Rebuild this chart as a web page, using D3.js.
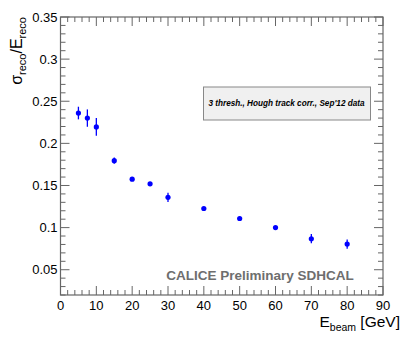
<!DOCTYPE html>
<html>
<head>
<meta charset="utf-8">
<script src="https://cdn.jsdelivr.net/npm/d3@7"></script>
<style>
  body { margin: 0; background: #fff; }
  svg { display: block; font-family: "Liberation Sans", Arial, sans-serif; }
</style>
</head>
<body>
<script>
// beam energies [GeV]
var energies = [5, 7.5, 10, 15, 20, 25, 30, 40, 50, 60, 70, 80];
// relative resolution sigma/E
var resolution = [0.236, 0.230, 0.2195, 0.1795, 0.1575, 0.152, 0.136, 0.1227, 0.1108, 0.100, 0.0868, 0.0805];
var resolutionErr = [0.0075, 0.0103, 0.0105, 0.0038, 0.001, 0.0015, 0.0055, 0.001, 0.002, 0.001, 0.0055, 0.0055];

var xTicks = [0, 10, 20, 30, 40, 50, 60, 70, 80, 90];
var yTicks = [0.05, 0.1, 0.15, 0.2, 0.25, 0.3, 0.35];

var width = 407, height = 344;
var margin = {left: 60.5, right: 24, top: 17, bottom: 49};

var svg = d3.select('body')
    .append('svg')
    .attr('width', width)
    .attr('height', height);

var x = d3.scaleLinear().domain([0, 90]).range([margin.left, width - margin.right]);
var y = d3.scaleLinear().domain([0.02, 0.35]).range([height - margin.bottom, margin.top]);

var axisColor = '#666';

// frame
svg.append('rect')
    .attr('x', x(0))
    .attr('y', y(0.35))
    .attr('width', x(90) - x(0))
    .attr('height', y(0.02) - y(0.35))
    .attr('fill', 'none')
    .attr('stroke', axisColor)
    .attr('stroke-width', 1.2);

// minor + major ticks, all pointing inwards
var xMinor = d3.range(0, 90.01, 2);
var yMinor = d3.range(0.02, 0.3501, 0.01);

function isMajorX(v) { return Math.abs(v % 10) < 1e-6; }
function isMajorY(v) { return yTicks.some(function(t){ return Math.abs(t - v) < 1e-6; }); }

var ticks = svg.append('g').attr('stroke', axisColor).attr('stroke-width', 1);

xMinor.forEach(function(v){
    var len = isMajorX(v) ? 9 : 5;
    ticks.append('line').attr('x1', x(v)).attr('x2', x(v))
        .attr('y1', y(0.02)).attr('y2', y(0.02) - len);
    ticks.append('line').attr('x1', x(v)).attr('x2', x(v))
        .attr('y1', y(0.35)).attr('y2', y(0.35) + len);
});

yMinor.forEach(function(v){
    var len = isMajorY(v) ? 9 : 5;
    ticks.append('line').attr('y1', y(v)).attr('y2', y(v))
        .attr('x1', x(0)).attr('x2', x(0) + len);
    ticks.append('line').attr('y1', y(v)).attr('y2', y(v))
        .attr('x1', x(90)).attr('x2', x(90) - len);
});

// tick labels
svg.append('g').selectAll('text')
    .data(xTicks)
    .enter()
    .append('text')
    .attr('x', function(d){ return x(d); })
    .attr('y', y(0.02) + 15)
    .attr('text-anchor', 'middle')
    .attr('font-size', 13)
    .text(function(d){ return d; });

svg.append('g').selectAll('text')
    .data(yTicks)
    .enter()
    .append('text')
    .attr('x', x(0) - 3)
    .attr('y', function(d){ return y(d) + 4.5; })
    .attr('text-anchor', 'end')
    .attr('font-size', 13)
    .text(function(d){ return d; });

// axis titles
var xt = svg.append('text')
    .attr('x', 400)
    .attr('y', 327)
    .attr('text-anchor', 'end')
    .attr('font-size', 15.5);
xt.append('tspan').text('E');
xt.append('tspan').attr('font-size', 10.5).attr('dy', 4).text('beam');
xt.append('tspan').attr('dy', -4).text(' [GeV]');

var yt = svg.append('text')
    .attr('transform', 'translate(22,' + y(0.35) + ') rotate(-90)')
    .attr('text-anchor', 'end')
    .attr('font-size', 16);
yt.append('tspan').text('σ');
yt.append('tspan').attr('font-size', 11).attr('dy', 4).text('reco');
yt.append('tspan').attr('dy', -4).text('/E');
yt.append('tspan').attr('font-size', 11).attr('dy', 4).text('reco');

// legend box
svg.append('rect')
    .attr('x', 203.5)
    .attr('y', 87)
    .attr('width', 167)
    .attr('height', 33)
    .attr('fill', '#f0f0f0')
    .attr('stroke', '#888')
    .attr('stroke-width', 1);

svg.append('text')
    .attr('x', 286.5)
    .attr('y', 106)
    .attr('text-anchor', 'middle')
    .attr('font-size', 8.2)
    .attr('font-weight', 'bold')
    .attr('font-style', 'italic')
    .text("3 thresh., Hough track corr., Sep'12 data");

svg.append('text')
    .attr('x', 260)
    .attr('y', 280)
    .attr('text-anchor', 'middle')
    .attr('font-size', 13.5)
    .attr('font-weight', 'bold')
    .attr('fill', '#6e6e6e')
    .text('CALICE Preliminary SDHCAL');

// data
var pts = energies.map(function(e, i){
    return {e: e, v: resolution[i], err: resolutionErr[i]};
});

svg.append('g').selectAll('line')
    .data(pts)
    .enter()
    .append('line')
    .attr('x1', function(d){ return x(d.e); })
    .attr('x2', function(d){ return x(d.e); })
    .attr('y1', function(d){ return y(d.v - d.err); })
    .attr('y2', function(d){ return y(d.v + d.err); })
    .attr('stroke', '#0000ff')
    .attr('stroke-width', 1.3);

svg.append('g').selectAll('circle')
    .data(pts)
    .enter()
    .append('circle')
    .attr('cx', function(d){ return x(d.e); })
    .attr('cy', function(d){ return y(d.v); })
    .attr('r', 2.6)
    .attr('fill', '#0000ff');
</script>
</body>
</html>
